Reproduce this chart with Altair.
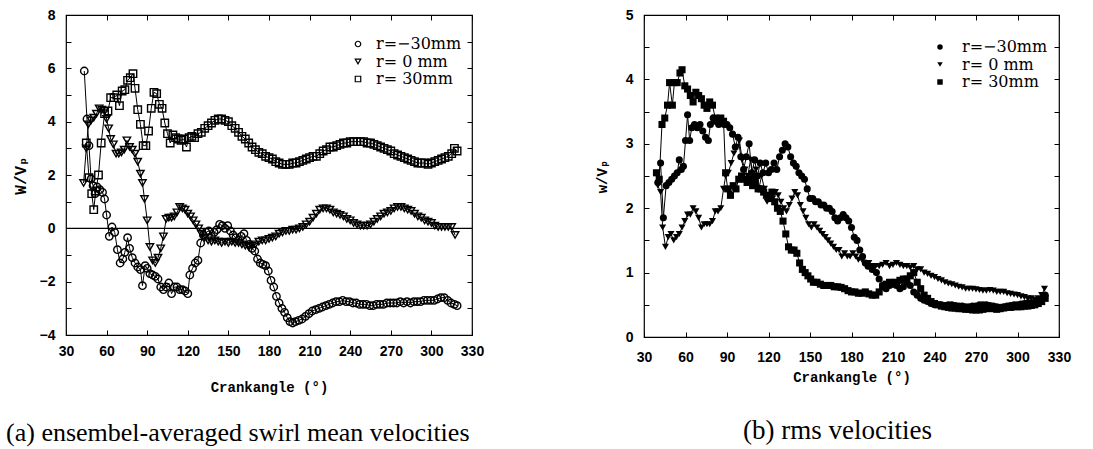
import altair as alt
import pandas as pd

LABELS = ["r=\u221230mm", "r= 0 mm", "r= 30mm"]
SHAPES = ["circle", "triangle-down", "square"]
X_TICKS = [30, 60, 90, 120, 150, 180, 210, 240, 270, 300, 330]
A_Y_TICKS = [-4, -3, -2, -1, 0, 1, 2, 3, 4, 5, 6, 7, 8]
B_Y_TICKS = [0, 0.5, 1, 1.5, 2, 2.5, 3, 3.5, 4, 4.5, 5]

# ---------------- panel (a): ensemble-averaged swirl mean velocities W/Vp
a_neg30 = [(43.5,5.9),(45.5,4.1),(47,3.1),(48.5,1.85),(50,1.6),(51.5,1.3),(53,1.55),(55,1.45),
           (57,1.35),(58.5,1.1),(60,0.5),(62,-0.3),(64,0.05),(66,-0.15),(68,-0.8),(70,-1.3),
           (72,-1.15),(73.5,-0.9),(75.5,-0.35),(77,-0.75),(79,-1.1),(81,-1.3),(83,-1.45),(85,-1.55),
           (86.5,-2.15),(88.5,-1.4),(90,-1.5),(92,-1.7),(94,-1.75),(96,-1.8),(98,-1.9),(100,-2.2),
           (102,-2.3),(104,-2.2),(106,-2.05),(108,-2.45),(110,-2.2),(112,-2.2),(114,-2.3),(116,-2.3),
           (118,-2.35),(120,-2.45),(121.5,-1.75),(123.5,-1.5),(125.5,-1.3),(127.5,-1.2),(129.5,-0.55),
           (131.5,-0.25),(133.5,-0.15),(135.5,-0.1),(137.5,-0.3),(139.5,-0.15),(141.5,-0.05),(143.5,0.15),
           (145.5,0.1),(147.5,0.0),(149.5,0.1),(151.5,-0.1),(153.5,-0.25),(155.5,-0.35),(157.5,-0.45),
           (159.5,-0.3),(161.5,-0.2),(163.5,-0.45),(165.5,-0.6),(167.5,-0.75),(169.5,-0.85),(171.5,-1.15),
           (173.5,-1.3),(175.5,-1.35),(177.5,-1.4),(179.5,-1.6),(181.5,-1.95),(183.5,-2.2),(185.5,-2.55),
           (187.5,-2.8),(189.5,-3.0),(191.5,-3.15),(193.5,-3.35),(195.5,-3.5),(197.5,-3.55),(199.5,-3.5),
           (202,-3.45),(204.5,-3.4),(207,-3.3),(209.5,-3.2),(212,-3.1),(214.5,-3.05),(217,-3.0),
           (219.5,-2.95),(222,-2.9),(224.5,-2.85),(227,-2.8),(229.5,-2.75),(232,-2.75),(234.5,-2.7),
           (237,-2.75),(239.5,-2.75),(242,-2.8),(244.5,-2.8),(247,-2.85),(249.5,-2.85),(252,-2.85),
           (254.5,-2.9),(257,-2.9),(259.5,-2.85),(262,-2.85),(264.5,-2.85),(267,-2.8),(269.5,-2.8),
           (272,-2.8),(274.5,-2.8),(277,-2.75),(279.5,-2.8),(282,-2.75),(284.5,-2.8),(287,-2.75),
           (289.5,-2.75),(292,-2.75),(294.5,-2.7),(297,-2.7),(299.5,-2.7),(302,-2.7),(304.5,-2.65),
           (307,-2.6),(309.5,-2.6),(312,-2.7),(314.5,-2.8),(317,-2.85),(319,-2.9)]

a_zero = [(43,1.7),(45,3.0),(46.5,3.9),(48.5,4.05),(50.5,4.15),(52.5,4.3),(54.5,4.5),(56.5,4.45),
          (58.5,4.4),(60,4.1),(61.5,3.75),(63,3.35),(65,3.15),(67,2.8),(69,2.8),(71,2.85),(73,2.95),
          (75,3.3),(77,3.05),(79,2.95),(81,2.8),(83,2.5),(85,2.05),(86.5,1.7),(88,1.1),(90,0.3),
          (92,-0.7),(94,-1.2),(96,-1.3),(98,-1.1),(100,-0.75),(102,-0.3),(104,0.35),(106,0.4),
          (108,0.4),(110,0.45),(112,0.6),(114,0.8),(116,0.75),(118,0.7),(120,0.55),(122,0.45),
          (124,0.3),(126,0.15),(128,0.0),(130,-0.2),(132.5,-0.35),(135,-0.45),(137.5,-0.5),
          (140,-0.45),(142.5,-0.5),(145,-0.55),(147.5,-0.5),(150,-0.55),(152.5,-0.5),(155,-0.55),
          (157.5,-0.55),(160,-0.6),(162.5,-0.65),(165,-0.7),(167.5,-0.65),(170,-0.6),(172.5,-0.5),
          (175,-0.45),(177.5,-0.45),(180,-0.4),(182.5,-0.35),(185,-0.3),(187.5,-0.2),(190,-0.15),
          (192.5,-0.1),(195,-0.1),(197.5,-0.05),(200,-0.05),(202.5,0.0),(205,0.05),(207.5,0.15),
          (210,0.25),(212.5,0.4),(215,0.55),(217.5,0.7),(220,0.75),(222.5,0.75),(225,0.7),
          (227.5,0.6),(230,0.55),(232.5,0.5),(235,0.45),(237.5,0.35),(240,0.3),(242.5,0.2),
          (245,0.15),(247.5,0.1),(250,0.1),(252.5,0.1),(255,0.15),(257.5,0.25),(260,0.35),
          (262.5,0.45),(265,0.55),(267.5,0.6),(270,0.65),(272.5,0.75),(275,0.8),(277.5,0.8),
          (280,0.75),(282.5,0.7),(285,0.65),(287.5,0.55),(290,0.45),(292.5,0.4),(295,0.3),
          (297.5,0.25),(300,0.2),(302.5,0.1),(305,0.05),(307.5,0.05),(310,0.05),(312.5,0.05),
          (315,0.05),(317.5,-0.25)]

a_pos30 = [(45,3.2),(47,1.9),(49,1.3),(50.5,0.7),(52,1.4),(54,2.0),(56,3.2),(58.5,4.3),(61,4.4),
           (63,4.9),(65.5,4.9),(67.5,5.0),(69.5,4.6),(71.5,5.15),(73.5,5.2),(75.5,5.55),(77.5,5.65),
           (79.5,5.8),(81,5.25),(83,4.45),(85,3.9),(87,3.1),(89,3.1),(91,3.65),(93,4.5),(95,5.1),
           (97,5.05),(99,4.65),(101,4.5),(103,3.95),(105,3.55),(107,3.2),(109,3.5),(111,3.4),
           (113,3.35),(115,3.3),(117,3.35),(119,3.05),(121,3.4),(123,3.45),(125,3.4),(127.5,3.55),
           (130,3.6),(132.5,3.75),(135,3.85),(137.5,3.95),(140,4.05),(142.5,4.1),(145,4.1),
           (147.5,4.05),(150,4.0),(152.5,3.85),(155,3.75),(157.5,3.6),(160,3.45),(162.5,3.35),
           (165,3.2),(167.5,3.05),(170,2.95),(172.5,2.85),(175,2.8),(177.5,2.7),(180,2.65),
           (182.5,2.6),(185,2.5),(187.5,2.45),(190,2.4),(192.5,2.4),(195,2.4),(197.5,2.45),
           (200,2.45),(202.5,2.5),(205,2.55),(207.5,2.6),(210,2.65),(212.5,2.7),(215,2.7),
           (217.5,2.8),(220,2.9),(222.5,2.95),(225,3.05),(227.5,3.05),(230,3.1),(232.5,3.15),
           (235,3.2),(237.5,3.2),(240,3.25),(242.5,3.25),(245,3.25),(247.5,3.25),(250,3.25),
           (252.5,3.2),(255,3.2),(257.5,3.15),(260,3.1),(262.5,3.05),(265,3.0),(267.5,2.95),
           (270,2.9),(272.5,2.8),(275,2.75),(277.5,2.7),(280,2.65),(282.5,2.6),(285,2.55),
           (287.5,2.5),(290,2.45),(292.5,2.45),(295,2.45),(297.5,2.4),(300,2.45),(302.5,2.5),
           (305,2.55),(307.5,2.6),(310,2.65),(312.5,2.7),(315,2.8),(317,3.0),(319,2.9)]

# ---------------- panel (b): rms velocities w/Vp
b_neg30 = [(40,2.4),(42,2.7),(44,1.85),(46,2.35),(48,2.4),(50,2.45),(52,2.5),(54,2.55),(55.5,2.75),
           (57,2.6),(58.5,2.65),(60,3.05),(61.5,3.45),(63,3.05),(64.5,3.25),(66.5,3.3),(68.5,3.25),
           (70.5,3.3),(72.5,3.2),(74.5,3.1),(76.5,3.05),(78,3.3),(80,3.4),(82,3.35),(84,3.3),
           (86,3.35),(88,3.3),(90,3.3),(92,3.25),(94,3.15),(96,2.95),(98,3.1),(100,2.8),(102,2.6),
           (104,2.8),(106,3.0),(108,2.55),(110,2.75),(112,2.5),(114,2.7),(116,2.55),(118,2.7),
           (120,2.55),(122,2.6),(124,2.7),(126,2.6),(128,2.8),(130,2.9),(132,3.0),(134,2.95),
           (136,2.8),(138,2.7),(140,2.65),(142,2.55),(144,2.5),(146,2.45),(148,2.3),(150,2.15),
           (152,2.15),(154,2.1),(156,2.1),(158,2.05),(160,2.05),(162,2.0),(164,2.0),(166,1.95),
           (168,1.85),(170,1.8),(172,1.85),(174,1.9),(176,1.85),(178,1.8),(180,1.7),(182,1.55),
           (184,1.5),(186,1.35),(188,1.25),(190,1.15),(192,1.1),(195,1.05),(198,1.0),(200,0.9),
           (202.5,0.8),(205,0.75),(207.5,0.8),(210,0.85),(212.5,0.8),(215,0.75),(217.5,0.78),
           (220,0.85),(222.5,0.8),(225,0.7),(227.5,0.65),(230,0.6),(232.5,0.57),(235,0.55),
           (237.5,0.52),(240,0.5),(242.5,0.5),(245,0.5),(247.5,0.49),(250,0.5),(252.5,0.5),
           (255,0.49),(257.5,0.48),(260,0.48),(262.5,0.47),(265,0.47),(267.5,0.48),(270,0.48),
           (272.5,0.5),(275,0.5),(277.5,0.5),(280,0.49),(282.5,0.48),(285,0.47),(287.5,0.46),
           (290,0.47),(292.5,0.48),(295,0.49),(297.5,0.5),(300,0.5),(302.5,0.51),(305,0.52),
           (307.5,0.53),(310,0.53),(312.5,0.52),(315,0.55),(317.5,0.58),(320,0.65)]

b_zero = [(40,2.35),(42,2.25),(43.5,1.7),(45.5,1.4),(47.5,1.55),(49.5,1.6),(51.5,1.5),(53.5,1.55),
          (55.5,1.6),(57.5,1.7),(59.5,1.8),(61.5,1.9),(63.5,1.9),(65.5,2.0),(67.5,1.95),(69.5,1.85),
          (71.5,1.7),(73.5,1.75),(75.5,1.75),(77.5,1.75),(79.5,1.8),(81.5,1.95),(83.5,1.95),
          (85.5,2.0),(87.5,2.3),(89,2.5),(91,2.55),(93,2.7),(95,2.85),(97,2.95),(99,3.05),(101,2.75),
          (103,2.6),(105,2.5),(107,2.75),(109,2.45),(111,2.6),(113,2.3),(115,2.5),(117,2.3),
          (119,2.1),(121,2.2),(123,2.15),(125,2.25),(127,2.2),(129,2.1),(131,2.0),(133,1.95),
          (135,2.05),(137,2.15),(139,2.25),(141,2.2),(143,2.05),(145,1.95),(147,1.85),(149,1.75),
          (151,1.7),(153,1.75),(155,1.7),(157,1.65),(159,1.6),(161,1.55),(163,1.5),(165,1.45),
          (167,1.4),(169,1.35),(171,1.35),(173,1.25),(175,1.3),(177,1.25),(179,1.25),(181,1.3),
          (183,1.25),(185,1.2),(187.5,1.2),(190,1.15),(192.5,1.15),(195,1.1),(197.5,1.1),(200,1.1),
          (202.5,1.12),(205,1.15),(207.5,1.1),(210,1.12),(212.5,1.15),(215,1.12),(217.5,1.1),
          (220,1.1),(222.5,1.08),(225,1.1),(227.5,1.05),(230,1.05),(232.5,1.0),(235,0.98),
          (237.5,0.95),(240,0.93),(242.5,0.9),(245,0.88),(247.5,0.85),(250,0.83),(252.5,0.82),
          (255,0.8),(257.5,0.78),(260,0.77),(262.5,0.75),(265,0.75),(267.5,0.75),(270,0.74),
          (272.5,0.73),(275,0.72),(277.5,0.72),(280,0.73),(282.5,0.72),(285,0.7),(287.5,0.7),
          (290,0.7),(292.5,0.68),(295,0.67),(297.5,0.66),(300,0.65),(302.5,0.63),(305,0.62),
          (307.5,0.6),(310,0.6),(312.5,0.58),(315,0.6),(317.5,0.65),(319.5,0.75)]

b_pos30 = [(39,2.55),(41,2.45),(43,3.3),(45,3.4),(47,3.6),(48.5,3.95),(50.5,3.6),(52,3.95),(54,3.95),
           (56,4.1),(57.5,4.15),(59.5,3.9),(61.5,3.85),(63.5,3.75),(65.5,3.65),(67.5,3.8),(69.5,3.75),
           (71.5,3.7),(73.5,3.6),(75.5,3.55),(77.5,3.65),(79.5,3.6),(81.5,3.4),(83.5,3.35),(85.5,3.4),
           (87.5,3.35),(89,2.55),(90.5,2.3),(92.5,2.2),(94.5,2.35),(96.5,2.3),(98.5,2.45),(100.5,2.5),
           (102.5,2.45),(104.5,2.4),(106.5,2.45),(108.5,2.35),(110.5,2.4),(112.5,2.3),(114.5,2.3),
           (116.5,2.25),(118.5,2.2),(120.5,2.15),(122.5,2.25),(124.5,2.1),(126.5,2.0),(128.5,1.95),
           (130.5,1.8),(132.5,1.6),(134.5,1.4),(136.5,1.35),(138.5,1.35),(140.5,1.3),(142.5,1.15),
           (144.5,1.05),(146.5,1.0),(148.5,0.95),(150.5,0.9),(152.5,0.85),(155,0.85),(157.5,0.82),
           (160,0.8),(162.5,0.8),(165,0.8),(167.5,0.78),(170,0.78),(172.5,0.77),(175,0.75),
           (177.5,0.72),(180,0.7),(182.5,0.7),(185,0.68),(187.5,0.68),(190,0.7),(192.5,0.67),
           (195,0.65),(197.5,0.65),(200,0.7),(202.5,0.78),(205,0.82),(207.5,0.85),(210,0.82),
           (212.5,0.85),(215,0.88),(217.5,0.9),(220,0.9),(222.5,0.95),(225,1.0),(227.5,0.85),
           (230,0.75),(232.5,0.65),(235,0.6),(237.5,0.55),(240,0.52),(242.5,0.5),(245,0.48),
           (247.5,0.47),(250,0.46),(252.5,0.45),(255,0.45),(257.5,0.44),(260,0.44),(262.5,0.43),
           (265,0.43),(267.5,0.42),(270,0.42),(272.5,0.42),(275,0.43),(277.5,0.44),(280,0.45),
           (282.5,0.44),(285,0.43),(287.5,0.44),(290,0.45),(292.5,0.46),(295,0.46),(297.5,0.47),
           (300,0.47),(302.5,0.47),(305,0.48),(307.5,0.48),(310,0.49),(312.5,0.5),(315,0.52),
           (317.5,0.55),(320,0.6)]


def long_df(series_list):
    rows = []
    for lab, pts in zip(LABELS, series_list):
        for i, (x, y) in enumerate(pts):
            rows.append({"deg": x, "val": y, "series": lab, "order": i})
    return pd.DataFrame(rows)


TICK_FONT = "Liberation Sans"
TITLE_FONT = "Liberation Mono, DejaVu Sans Mono"
LEGEND_FONT = "DejaVu Serif"
CAPTION_FONT = "Liberation Serif"
TK = 5


def panel(df, y_domain, y_ticks, y_label_expr, y_title, y_title_size, filled, msize, mstroke,
          width, height, legend_x, legend_y, legend_off, caption, cap_anchor, cap_dx, cap_offset,
          cap_size, x_label_pad, x_title_pad, y_label_pad, y_title_pad, zero_line):
    xscale = alt.Scale(domain=[30, 330], nice=False, zero=False)
    yscale = alt.Scale(domain=y_domain, nice=False, zero=False)
    base = alt.Chart(df)
    lines = base.mark_line(color="black", strokeWidth=1.0).encode(
        x=alt.X("deg:Q", scale=xscale,
                axis=alt.Axis(orient="bottom", values=X_TICKS, offset=-TK, tickSize=TK,
                              domain=False, grid=False, labelFont=TICK_FONT, labelFontSize=14,
                              labelFontWeight="bold", labelPadding=x_label_pad, labelFlush=False,
                              title="Crankangle (\u00b0)", titleFont=TITLE_FONT,
                              titleFontSize=14, titleFontWeight="bold",
                              titlePadding=x_title_pad)),
        y=alt.Y("val:Q", scale=yscale,
                axis=alt.Axis(orient="left", values=y_ticks, offset=-TK, tickSize=TK,
                              domain=False, grid=False, labelFont=TICK_FONT, labelFontSize=14,
                              labelFontWeight="bold", labelExpr=y_label_expr,
                              labelPadding=y_label_pad, labelFlush=False,
                              title=y_title, titleFont=TITLE_FONT, titleFontSize=y_title_size,
                              titleFontWeight="bold", titlePadding=y_title_pad)),
        detail="series:N",
        order="order:Q",
    )
    points = base.mark_point(color="black", filled=filled, size=msize, strokeWidth=mstroke,
                             opacity=1).encode(
        x=alt.X("deg:Q", scale=xscale,
                axis=alt.Axis(orient="top", values=X_TICKS, offset=-TK, tickSize=TK,
                              domain=False, grid=False, labels=False, title=None)),
        y=alt.Y("val:Q", scale=yscale,
                axis=alt.Axis(orient="right", values=y_ticks, offset=-TK, tickSize=TK,
                              domain=False, grid=False, labels=False, title=None)),
        shape=alt.Shape("series:N", scale=alt.Scale(domain=LABELS, range=SHAPES),
                        legend=alt.Legend(orient="none", legendX=legend_x, legendY=legend_y,
                                          title=None, labelFont=LEGEND_FONT, labelFontSize=16,
                                          symbolSize=30, symbolStrokeWidth=1.2, rowPadding=1.5,
                                          labelOffset=legend_off, padding=0)),
    )
    layers = [lines, points]
    if zero_line:
        zl = alt.Chart(pd.DataFrame({"val": [0]})).mark_rule(color="black", strokeWidth=1.4).encode(
            y=alt.Y("val:Q", scale=yscale, axis=None))
        layers.insert(0, zl)
    return alt.layer(*layers).properties(
        width=width, height=height,
        title=alt.TitleParams(caption, orient="bottom", anchor=cap_anchor, dx=cap_dx,
                              offset=cap_offset, font=CAPTION_FONT, fontSize=cap_size,
                              fontWeight="normal", color="black"))


left = panel(long_df([a_neg30, a_zero, a_pos30]), [-4, 8], A_Y_TICKS,
             "datum.value % 2 == 0 ? datum.label : ''", "W/V\u209a", 16, False, 55, 1.4, 406, 320,
             284, 21, 10, "(a)  ensembel-averaged swirl mean velocities", "start", -6, 26, 26,
             9, 22, 11, 11, True)
right = panel(long_df([b_neg30, b_zero, b_pos30]), [0, 5], B_Y_TICKS,
              "datum.value % 1 == 0 ? format(datum.value, 'd') : ''", "w/V\u209a", 14, True, 50, 1,
              415, 322, 288, 24, 14, "(b)  rms velocities", "middle", -14, 34, 27,
              13, 6, 11, 16, False)

chart = alt.hconcat(left, right, spacing=109).resolve_scale(shape="independent").resolve_legend(
    shape="independent").properties(
    padding={"left": 5, "top": 7, "right": 5, "bottom": 5}
).configure_view(stroke="black", strokeWidth=1.2).configure_axis(
    tickColor="black", labelColor="black", titleColor="black", tickWidth=1
).configure_legend(labelColor="black")

chart.save("out.html", embed_options={"renderer": "svg", "actions": False})
